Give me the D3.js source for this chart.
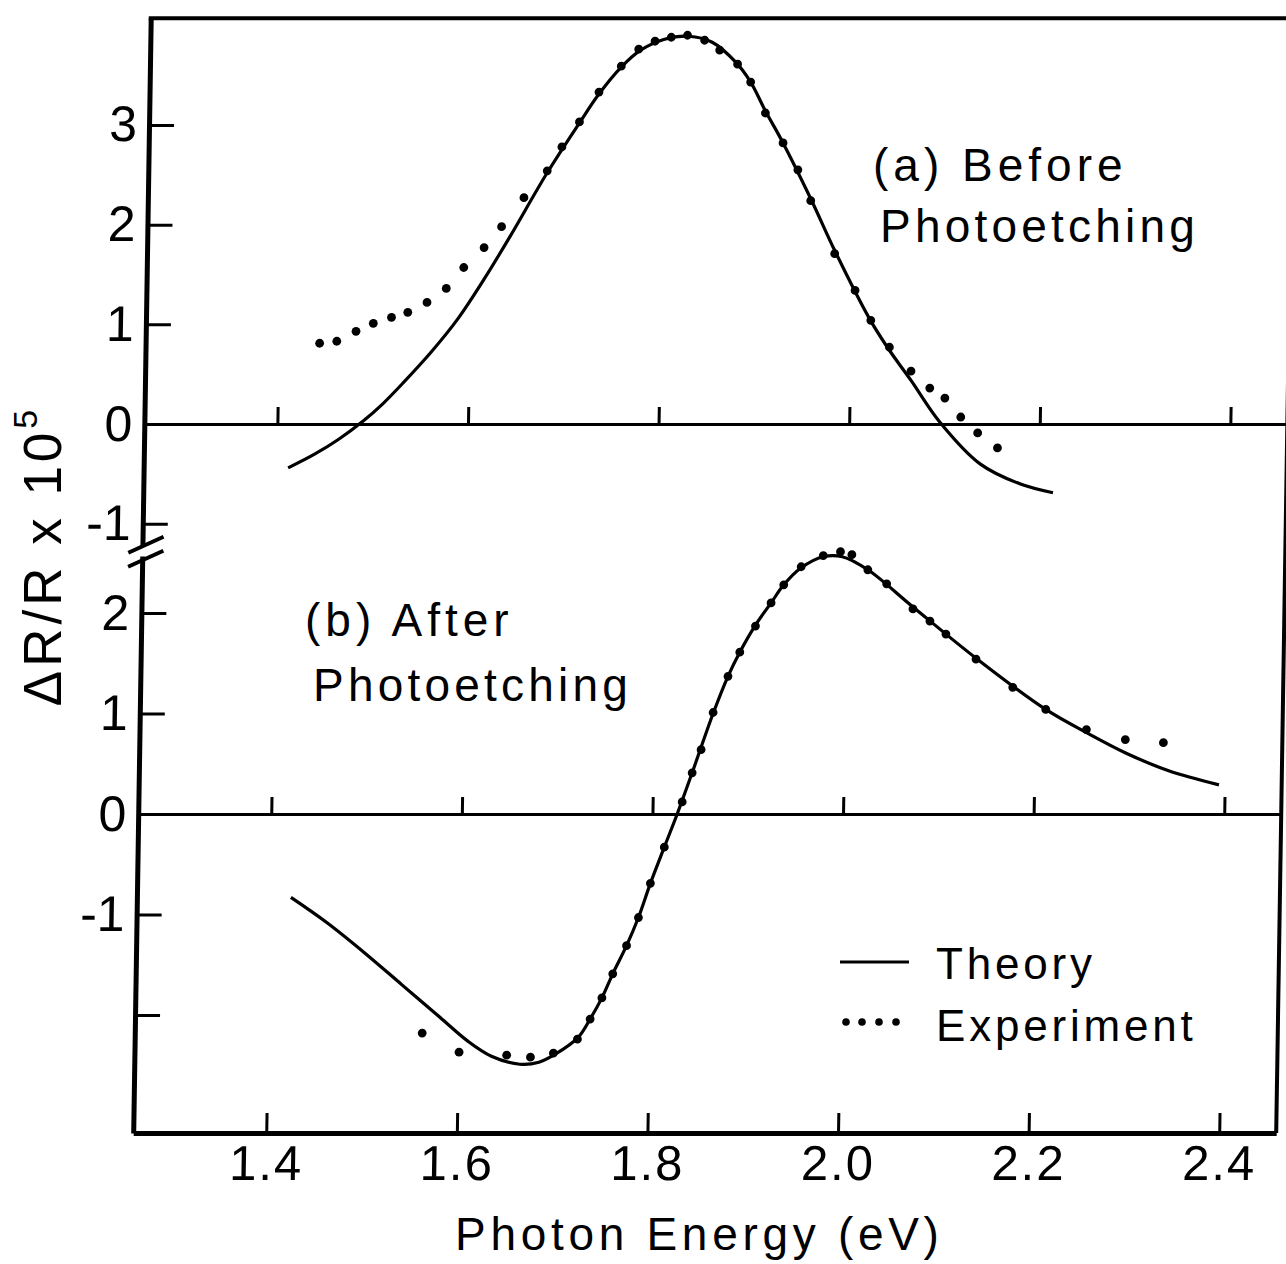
<!DOCTYPE html>
<html>
<head>
<meta charset="utf-8">
<script src="https://cdn.jsdelivr.net/npm/d3@7"></script>
<style>
  body { margin: 0; background: #fff; }
  svg { display: block; }
  text { font-family: "Liberation Sans", Arial, sans-serif; fill: #000; }
</style>
</head>
<body>
<script>
// ---- data ----
const energyTicks = [1.4, 1.6, 1.8, 2.0, 2.2, 2.4];
const topTicks = [-1, 0, 1, 2, 3];
const bottomTicks = [-2, -1, 0, 1, 2];
const unlabeledTicks = [-2];
const seriesNames = ["Theory", "Experiment"];
const panelLabels = [["(a) Before", "Photoetching"], ["(b) After", "Photoetching"]];
const xTitle = "Photon Energy (eV)";

// (a) before photoetching: [energy eV, dR/R x 1e5]
const theoryBefore = [
  [1.412, -0.44], [1.44, -0.30], [1.465, -0.15], [1.49, 0.03], [1.51, 0.20],
  [1.532, 0.42], [1.56, 0.72], [1.588, 1.06], [1.615, 1.46], [1.641, 1.88],
  [1.679, 2.52], [1.712, 3.02], [1.732, 3.31], [1.755, 3.58],
  [1.775, 3.75], [1.80, 3.86], [1.825, 3.89], [1.85, 3.83], [1.875, 3.63],
  [1.891, 3.43], [1.907, 3.14], [1.926, 2.82], [1.956, 2.26], [1.982, 1.74],
  [2.02, 1.05], [2.041, 0.74], [2.064, 0.44], [2.095, 0.02], [2.138, -0.40],
  [2.18, -0.60], [2.215, -0.69]
];
const experimentBefore = [
  [1.443, 0.81], [1.461, 0.83], [1.481, 0.93], [1.499, 1.01], [1.518, 1.07],
  [1.535, 1.12], [1.555, 1.22], [1.575, 1.36], [1.593, 1.57], [1.614, 1.77],
  [1.632, 1.98], [1.655, 2.27], [1.679, 2.54], [1.694, 2.78], [1.712, 3.03],
  [1.732, 3.33], [1.755, 3.59], [1.773, 3.76], [1.790, 3.84], [1.807, 3.88],
  [1.824, 3.90], [1.842, 3.85], [1.858, 3.75], [1.877, 3.61], [1.891, 3.43],
  [1.907, 3.12], [1.926, 2.82], [1.942, 2.55], [1.956, 2.24], [1.982, 1.71],
  [2.004, 1.34], [2.021, 1.04], [2.041, 0.77], [2.064, 0.53], [2.084, 0.36],
  [2.100, 0.26], [2.117, 0.07], [2.135, -0.09], [2.156, -0.24]
];

// (b) after photoetching
const theoryAfter = [
  [1.422, -0.83], [1.46, -1.08], [1.50, -1.38], [1.54, -1.70], [1.58, -2.02],
  [1.61, -2.26], [1.635, -2.41], [1.665, -2.49], [1.685, -2.47], [1.702, -2.39],
  [1.726, -2.22], [1.738, -2.04], [1.75, -1.83], [1.761, -1.59], [1.775, -1.31],
  [1.787, -1.03], [1.799, -0.69], [1.813, -0.33], [1.826, 0.0], [1.841, 0.41],
  [1.862, 1.0], [1.877, 1.37], [1.889, 1.61], [1.905, 1.88], [1.921, 2.10],
  [1.934, 2.28], [1.952, 2.45], [1.975, 2.56], [1.995, 2.56], [2.022, 2.43],
  [2.07, 2.06], [2.137, 1.55], [2.211, 1.04], [2.258, 0.79], [2.295, 0.61],
  [2.341, 0.43], [2.394, 0.29]
];
const experimentAfter = [
  [1.562, -2.18], [1.601, -2.37], [1.651, -2.40], [1.676, -2.42], [1.700, -2.38],
  [1.725, -2.24], [1.738, -2.04], [1.750, -1.83], [1.761, -1.59], [1.775, -1.31],
  [1.787, -1.03], [1.799, -0.69], [1.813, -0.33], [1.831, 0.12], [1.841, 0.41],
  [1.850, 0.64], [1.862, 1.01], [1.877, 1.37], [1.889, 1.61], [1.905, 1.87],
  [1.921, 2.10], [1.934, 2.28], [1.952, 2.46], [1.975, 2.57], [1.993, 2.61],
  [2.005, 2.58], [2.022, 2.43], [2.042, 2.29], [2.070, 2.04], [2.088, 1.92],
  [2.105, 1.79], [2.137, 1.54], [2.176, 1.26], [2.211, 1.04], [2.254, 0.84],
  [2.295, 0.74], [2.335, 0.71]
];

// ---- layout ----
const width = 1286;
const height = 1264;

const svg = d3.select("body").append("svg")
  .attr("width", width)
  .attr("height", height);

// the scanned figure leans a little, so shear the plot
const plot = svg.append("g").attr("transform", "skewX(-0.9)");

const x = d3.scaleLinear().domain([1.2604, 2.4598]).range([151, 1294]);
const yTop = d3.scaleLinear().domain([-1.22, 4.07]).range([545.6, 18.3]);
const yBot = d3.scaleLinear().domain([-3.174, 2.567]).range([1133, 556]);

const x0 = x.range()[0];
const x1 = x.range()[1];

function styleAxis(g, domainWidth, tickWidth, fontSize) {
  g.attr("font-family", null).attr("font-size", null);
  g.select(".domain").attr("stroke", "#000").attr("stroke-width", domainWidth);
  g.selectAll(".tick line").attr("stroke", "#000").attr("stroke-width", tickWidth);
  g.selectAll(".tick text").style("font-size", fontSize + "px");
}

// top border and right border
plot.append("line")
  .attr("x1", x0 - 2).attr("x2", x1)
  .attr("y1", yTop.range()[1]).attr("y2", yTop.range()[1])
  .attr("stroke", "#000").attr("stroke-width", 4);
plot.append("line")
  .attr("x1", x1).attr("x2", x1)
  .attr("y1", yTop.range()[1]).attr("y2", yBot.range()[0])
  .attr("stroke", "#000").attr("stroke-width", 4);

// left axes (ticks point inward, labels outside)
plot.append("g")
  .attr("transform", `translate(${x0},0)`)
  .call(d3.axisLeft(yTop).tickValues(topTicks).tickSizeInner(-25).tickSizeOuter(0)
    .tickPadding(12).tickFormat(d => String(d)))
  .call(g => styleAxis(g, 5, 3, 50));

plot.append("g")
  .attr("transform", `translate(${x0},0)`)
  .call(d3.axisLeft(yBot).tickValues(bottomTicks).tickSizeInner(-25).tickSizeOuter(0)
    .tickPadding(12).tickFormat(d => unlabeledTicks.includes(d) ? "" : String(d)))
  .call(g => styleAxis(g, 5, 3, 50));

// axis break marks
const gapMid = (yTop.range()[0] + yBot.range()[1]) / 2;
plot.append("g").selectAll("line")
  .data([-7, 7])
  .join("line")
  .attr("x1", x0 - 14).attr("y1", d => gapMid + d + 9)
  .attr("x2", x0 + 21).attr("y2", d => gapMid + d - 7)
  .attr("stroke", "#000").attr("stroke-width", 4);

// zero lines with small ticks
[yTop, yBot].forEach(ys => {
  plot.append("g")
    .attr("transform", `translate(0,${ys(0)})`)
    .call(d3.axisBottom(x).tickValues(energyTicks).tickSizeInner(-17).tickSizeOuter(0).tickFormat(""))
    .call(g => styleAxis(g, 3, 3, 10));
});

// bottom energy axis
plot.append("g")
  .attr("transform", `translate(0,${yBot.range()[0]})`)
  .call(d3.axisBottom(x).tickValues(energyTicks).tickSizeInner(-20).tickSizeOuter(0)
    .tickPadding(12).tickFormat(d3.format(".1f")))
  .call(g => styleAxis(g, 5, 3, 49))
  .call(g => g.selectAll(".tick text").attr("letter-spacing", 2));

// curves and dots
function drawPanel(theory, experiment, ys) {
  const line = d3.line()
    .x(d => x(d[0]))
    .y(d => ys(d[1]))
    .curve(d3.curveCatmullRom.alpha(0.5));
  plot.append("path")
    .datum(theory)
    .attr("d", line)
    .attr("fill", "none")
    .attr("stroke", "#000")
    .attr("stroke-width", 3.2);
  plot.append("g").selectAll("circle")
    .data(experiment)
    .join("circle")
    .attr("cx", d => x(d[0]))
    .attr("cy", d => ys(d[1]))
    .attr("r", 4.4)
    .attr("fill", "#000");
}
drawPanel(theoryBefore, experimentBefore, yTop);
drawPanel(theoryAfter, experimentAfter, yBot);

// ---- text ----
const labelPos = [[873, 181, 880, 242], [305, 636, 313, 701]];
panelLabels.forEach((lines, i) => {
  const p = labelPos[i];
  svg.append("text").attr("x", p[0]).attr("y", p[1])
    .style("font-size", "46px").attr("letter-spacing", 5).text(lines[0]);
  svg.append("text").attr("x", p[2]).attr("y", p[3])
    .style("font-size", "46px").attr("letter-spacing", 4.2).text(lines[1]);
});

// legend
const legend = svg.append("g").attr("transform", "translate(840,962)");
legend.append("line")
  .attr("x1", 0).attr("x2", 69).attr("y1", 0).attr("y2", 0)
  .attr("stroke", "#000").attr("stroke-width", 3);
legend.append("g").selectAll("circle")
  .data([6, 22, 39, 56])
  .join("circle")
  .attr("cx", d => d).attr("cy", 60).attr("r", 3.8).attr("fill", "#000");
legend.selectAll("text.lg")
  .data(seriesNames)
  .join("text")
  .attr("class", "lg")
  .attr("x", 96)
  .attr("y", (d, i) => 17 + i * 62)
  .style("font-size", "44px")
  .attr("letter-spacing", 3.8)
  .text(d => d);

// axis titles
svg.append("text")
  .attr("x", 455).attr("y", 1250)
  .style("font-size", "46px")
  .attr("letter-spacing", 4.7)
  .text(xTitle);

const yt = svg.append("text")
  .attr("transform", "translate(61,556) rotate(-90)")
  .attr("text-anchor", "middle")
  .style("font-size", "53px")
  .attr("letter-spacing", 4);
yt.append("tspan").text("ΔR/R x 10");
yt.append("tspan").attr("dy", -24).style("font-size", "34px").text("5");
</script>
</body>
</html>
